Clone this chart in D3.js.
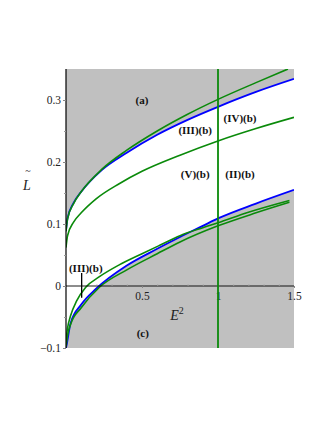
<!DOCTYPE html>
<html>
<head>
<meta charset="utf-8">
<script src="https://cdn.jsdelivr.net/npm/d3@7"></script>
<style>
  body { margin: 0; background: #fff; }
  svg { display: block; }
  text { font-family: "Liberation Serif", "DejaVu Serif", serif; }
</style>
</head>
<body>
<svg width="325" height="421"></svg>
<script>
// values: [E^2, L~]
const upperBlue = [[0,0.089],[0.01,0.109],[0.05,0.134],[0.1,0.152],[0.235,0.187],[0.4,0.215],[0.6,0.244],[0.8,0.268],[1,0.289],[1.25,0.313],[1.5,0.334]]
const upperGreen = [[0,0.088],[0.01,0.108],[0.05,0.133],[0.1,0.152],[0.235,0.188],[0.4,0.219],[0.6,0.25],[0.8,0.277],[1,0.301],[1.25,0.328],[1.46,0.35]]
const midGreen = [[0,0.062],[0.01,0.081],[0.05,0.103],[0.1,0.118],[0.2,0.141],[0.35,0.165],[0.5,0.185],[0.75,0.211],[1,0.234],[1.25,0.254],[1.5,0.272]]
const lowerBlue = [[0,-0.1],[0.005,-0.094],[0.03,-0.06],[0.1,-0.03],[0.2,-0.004],[0.4,0.033],[0.6,0.06],[0.75,0.079],[0.9,0.097],[1,0.109],[1.25,0.133],[1.5,0.155]]
const outerGreen = [[0,-0.087],[0.01,-0.068],[0.03,-0.048],[0.07,-0.024],[0.13,-0.002],[0.22,0.015],[0.35,0.034],[0.5,0.052],[0.62,0.066],[0.75,0.081],[0.9,0.094],[1,0.102],[1.2,0.119],[1.47,0.138]]
const lowerGreen = [[0,-0.098],[0.01,-0.08],[0.03,-0.062],[0.1,-0.035],[0.22,-0.002],[0.4,0.026],[0.6,0.052],[0.75,0.071],[1,0.097],[1.25,0.118],[1.47,0.135]]
const verticalE2 = 1

const yTicks = [-0.1, 0, 0.1, 0.2, 0.3]
const yMinor = [-0.05, 0.05, 0.15, 0.25]
const xTicks = [0.5, 1, 1.5]
const xMinor = [0.1, 0.2, 0.3, 0.4, 0.6, 0.7, 0.8, 0.9, 1.1, 1.2, 1.3, 1.4]

const regionLabels = [
  {text: "(a)", x: 0.5, y: 0.298},
  {text: "(III)(b)", x: 0.85, y: 0.249},
  {text: "(IV)(b)", x: 1.145, y: 0.268},
  {text: "(V)(b)", x: 0.85, y: 0.178},
  {text: "(II)(b)", x: 1.145, y: 0.178},
  {text: "(III)(b)", x: 0.13, y: 0.026},
  {text: "(c)", x: 0.505, y: -0.078}
]

const svg = d3.select("svg")
const x = d3.scaleLinear().domain([0, 1.5]).range([66, 294])
const y = d3.scaleLinear().domain([-0.1, 0.35]).range([348, 69])

svg.append("clipPath").attr("id", "plot")
  .append("rect")
  .attr("x", x(0)).attr("y", y(0.35))
  .attr("width", x(1.5) - x(0)).attr("height", y(-0.1) - y(0.35))

const g = svg.append("g").attr("clip-path", "url(#plot)")

g.append("rect")
  .attr("x", x(0)).attr("y", y(0.35))
  .attr("width", x(1.5) - x(0)).attr("height", y(-0.1) - y(0.35))
  .attr("fill", "#c0c0c0")

// white below the upper blue curve, then gray again below the lower one
const under = d3.area()
  .x(d => x(d[0]))
  .y0(y(-0.1))
  .y1(d => y(d[1]))
  .curve(d3.curveMonotoneX)

g.append("path").datum(upperBlue).attr("fill", "#fff").attr("d", under)
g.append("path").datum(lowerBlue).attr("fill", "#c0c0c0").attr("d", under)

const line = d3.line()
  .x(d => x(d[0]))
  .y(d => y(d[1]))
  .curve(d3.curveMonotoneX)

const curves = [
  {data: upperBlue, color: "#0000ff", w: 1.8},
  {data: lowerBlue, color: "#0000ff", w: 1.8},
  {data: upperGreen, color: "#0a8a0a", w: 1.6},
  {data: midGreen, color: "#0a8a0a", w: 1.6},
  {data: outerGreen, color: "#0a8a0a", w: 1.6},
  {data: lowerGreen, color: "#0a8a0a", w: 1.6}
]

g.selectAll("path.curve")
  .data(curves).enter()
  .append("path")
  .attr("class", "curve")
  .attr("fill", "none")
  .attr("stroke", d => d.color)
  .attr("stroke-width", d => d.w)
  .attr("d", d => line(d.data))

// axes
svg.append("line")
  .attr("x1", x(0)).attr("x2", x(0))
  .attr("y1", y(0.35)).attr("y2", y(-0.1))
  .attr("stroke", "#000").attr("stroke-width", 1.2)

svg.append("line")
  .attr("x1", x(0)).attr("x2", x(1.5))
  .attr("y1", y(0)).attr("y2", y(0))
  .attr("stroke", "#000").attr("stroke-width", 0.9)

const yAxis = svg.append("g")
  .attr("transform", `translate(${x(0)},0)`)
  .call(d3.axisLeft(y).tickValues(yTicks).tickSize(3).tickPadding(2)
    .tickFormat(d => d === 0 ? "0" : d3.format(".1f")(d)))
yAxis.select(".domain").remove()
yAxis.selectAll("line").attr("stroke", "#888")
yAxis.selectAll("text").attr("font-size", 11.5).attr("fill", "#222")
  .attr("font-family", "Liberation Serif, serif")

svg.append("g")
  .attr("transform", `translate(${x(0)},0)`)
  .call(d3.axisLeft(y).tickValues(yMinor).tickSize(2).tickFormat(""))
  .call(a => a.select(".domain").remove())
  .selectAll("line").attr("stroke", "#999")

const xAxis = svg.append("g")
  .attr("transform", `translate(0,${y(0)})`)
  .call(d3.axisBottom(x).tickValues(xTicks).tickSize(2).tickPadding(4)
    .tickFormat(d3.format("")))
xAxis.select(".domain").remove()
xAxis.selectAll("line").attr("stroke", "#888")
xAxis.selectAll("text").attr("font-size", 11.5).attr("fill", "#222")
  .attr("font-family", "Liberation Serif, serif")

svg.append("g")
  .attr("transform", `translate(0,${y(0)})`)
  .call(d3.axisTop(x).tickValues(xMinor).tickSize(1.5).tickFormat(""))
  .call(a => a.select(".domain").remove())
  .selectAll("line").attr("stroke", "#999")

// vertical line at E^2 = 1
svg.append("line")
  .attr("x1", x(verticalE2)).attr("x2", x(verticalE2))
  .attr("y1", y(0.35)).attr("y2", y(-0.1))
  .attr("stroke", "#0a8a0a").attr("stroke-width", 1.8)

// pointer for the small (III)(b) region
svg.append("line")
  .attr("x1", x(0.103)).attr("x2", x(0.103))
  .attr("y1", y(0.021)).attr("y2", y(-0.019))
  .attr("stroke", "#000").attr("stroke-width", 1.3)

svg.selectAll("text.region")
  .data(regionLabels).enter()
  .append("text")
  .attr("class", "region")
  .attr("x", d => x(d.x))
  .attr("y", d => y(d.y))
  .attr("text-anchor", "middle")
  .attr("dominant-baseline", "middle")
  .attr("font-size", 11)
  .attr("font-weight", "bold")
  .attr("fill", "#111")
  .text(d => d.text)

// axis titles
svg.append("text")
  .attr("x", 27).attr("y", 190)
  .attr("text-anchor", "middle")
  .attr("font-size", 14).attr("font-style", "italic")
  .attr("fill", "#222")
  .text("L")
svg.append("text")
  .attr("x", 28).attr("y", 174)
  .attr("text-anchor", "middle")
  .attr("font-size", 10)
  .attr("fill", "#222")
  .text("~")

const eLabel = svg.append("text")
  .attr("x", 177).attr("y", 320)
  .attr("text-anchor", "middle")
  .attr("font-size", 14).attr("font-style", "italic")
  .attr("fill", "#222")
eLabel.append("tspan").text("E")
eLabel.append("tspan").attr("dy", -6).attr("font-size", 10).attr("font-style", "normal").text("2")
</script>
</body>
</html>
